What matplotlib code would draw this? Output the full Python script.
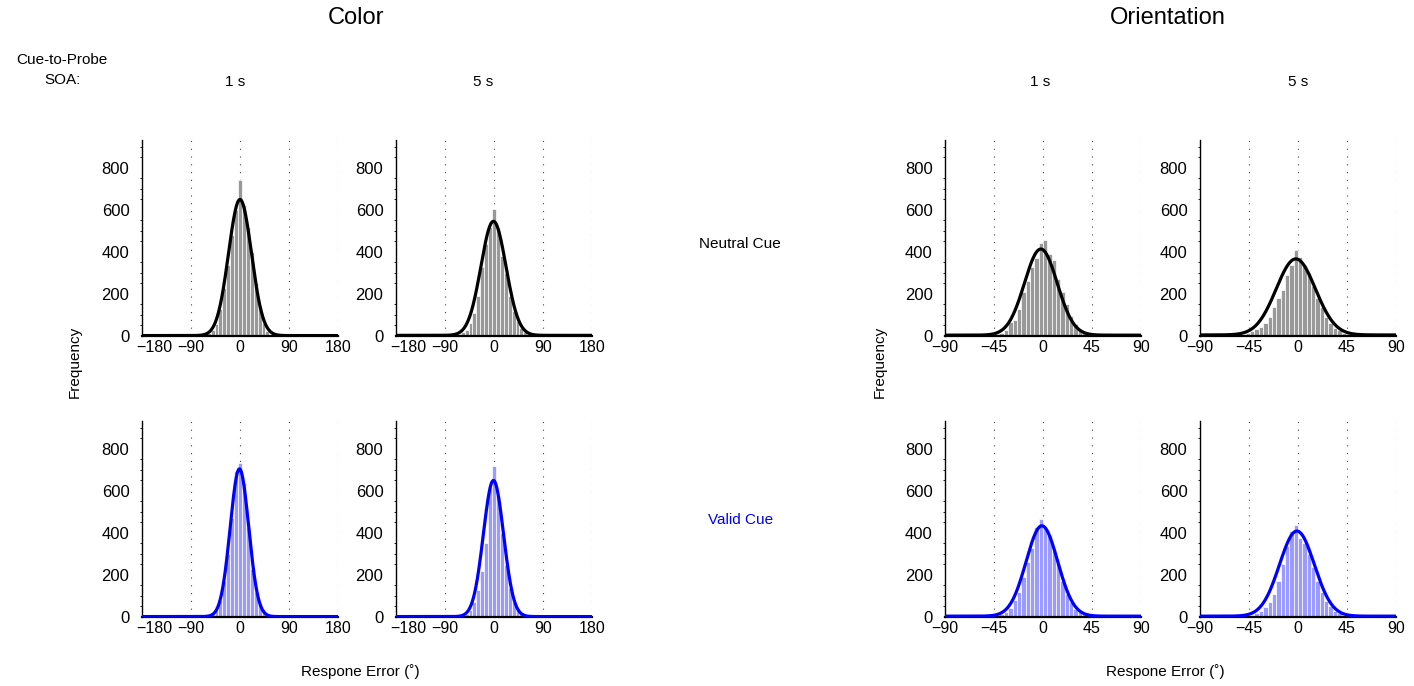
import numpy as np
import matplotlib
matplotlib.use('Agg')
import matplotlib.pyplot as plt
from matplotlib.ticker import MultipleLocator

# DATA: histogram counts (central bins only, tails ~0)
colorBinWidth = 7.2
colorCenters = [-72, -64.8, -57.6, -50.4, -43.2, -36, -28.8, -21.6, -14.4, -7.2, 0,
                7.2, 14.4, 21.6, 28.8, 36, 43.2, 50.4, 57.6, 64.8, 72]
color1sNeutral = [3, 5, 12, 28, 57, 130, 230, 340, 480, 600, 743, 625, 520, 400, 250, 140, 63, 25, 8, 4, 2]
color5sNeutral = [6, 10, 20, 28, 60, 110, 190, 330, 440, 521, 603, 514, 380, 300, 190, 120, 70, 40, 20, 10, 6]
color1sValid = [2, 4, 8, 15, 50, 80, 170, 300, 470, 697, 735, 640, 430, 230, 120, 60, 40, 15, 8, 4, 2]
color5sValid = [3, 5, 8, 15, 35, 70, 130, 220, 351, 617, 719, 576, 398, 248, 140, 70, 40, 18, 8, 5, 3]

oriBinWidth = 4
oriCenters = [-50, -46, -42, -38, -34, -30, -26, -22, -18, -14, -10, -6, -2,
              2, 6, 10, 14, 18, 22, 26, 30, 34, 38, 42, 46, 50]
ori1sNeutral = [4, 5, 8, 15, 30, 68, 75, 130, 210, 260, 330, 370, 445, 455, 390, 360, 270, 210, 150, 95, 55, 30, 20, 10, 6, 4]
ori5sNeutral = [8, 12, 22, 35, 45, 60, 90, 140, 180, 220, 290, 340, 410, 378, 340, 300, 240, 180, 140, 90, 60, 40, 28, 15, 10, 6]
ori1sValid = [4, 5, 8, 14, 25, 45, 80, 120, 190, 260, 330, 430, 465, 430, 390, 320, 250, 170, 110, 70, 40, 22, 14, 8, 5, 4]
ori5sValid = [4, 6, 10, 18, 30, 48, 70, 110, 170, 250, 340, 410, 438, 376, 352, 300, 240, 170, 120, 75, 50, 30, 18, 10, 6, 4]

# fitted curve parameters: amplitude, mean, sd, baseline
color1sNeutralFit = [648, 0, 21, 2]
color5sNeutralFit = [543, -1, 23, 3]
color1sValidFit = [703, -1, 17, 2]
color5sValidFit = [648, -1, 18.5, 2]
ori1sNeutralFit = [410, -2, 15, 4]
ori5sNeutralFit = [362, -2, 18, 5]
ori1sValidFit = [430, -1, 14.5, 4]
ori5sValidFit = [405, -1, 16, 4]

colorTicks = [-180, -90, 0, 90, 180]
oriTicks = [-90, -45, 0, 45, 90]
yTicks = [0, 200, 400, 600, 800]

NARROW = ['Liberation Sans Narrow', 'Liberation Sans', 'DejaVu Sans']
plt.rcParams['font.family'] = ['Liberation Sans', 'DejaVu Sans']
plt.rcParams['axes.unicode_minus'] = True


def tickText(t):
    return str(t).replace('-', '\u2212')


# Draws one histogram panel with its fit curve
def drawPanel(fig, rect, centers, counts, binWidth, fit, ticks, barColor, lineColor, shiftFirst=False):
    ax = fig.add_axes(rect)
    lo, hi = ticks[0], ticks[-1]

    ax.bar(centers, counts, width=binWidth, color=barColor, edgecolor='white', linewidth=0.5, zorder=2)

    amp, mu, sd, base = fit
    x = np.linspace(lo, hi, 500)
    y = base + amp * np.exp(-0.5 * ((x - mu) / sd) ** 2)
    ax.plot(x, y, color=lineColor, lw=2.3, zorder=4, solid_capstyle='butt')

    # dotted verticals at each tick
    for t in ticks[1:]:
        ax.axvline(t, color='#444444', lw=0.8, linestyle=(0, (1, 6)), zorder=1)

    # AXES PROPERTIES
    ax.set_xlim(lo, hi)
    ax.set_ylim(0, 933)
    labels = [tickText(t) for t in ticks]
    if shiftFirst:
        # the leftmost label is nudged right of the spine in the original
        labels[0] = ''
        ax.annotate(tickText(lo), xy=(lo, 0), xycoords=('data', 'axes fraction'),
                    xytext=(9, -3), textcoords='offset points', ha='center', va='top',
                    fontsize=11.5)
    ax.set_xticks(ticks, labels=labels)
    ax.set_yticks(yTicks)
    ax.yaxis.set_minor_locator(MultipleLocator(50))
    ax.spines['top'].set_visible(False)
    ax.spines['right'].set_visible(False)
    ax.spines['left'].set_linewidth(1.0)
    ax.spines['bottom'].set_linewidth(1.6)
    ax.spines['bottom'].set_zorder(3)
    ax.tick_params(axis='x', length=0, pad=3, labelsize=11.5)
    ax.tick_params(axis='y', which='major', length=0, pad=9, labelsize=12)
    ax.tick_params(axis='y', which='minor', length=1.5, width=0.6, direction='out')
    ax.set_facecolor('none')
    return ax


fig = plt.figure(figsize=(14.14, 6.86), dpi=100)

W, H = 1414.0, 686.0
panelW = 196 / W
panelH = 196 / H
topBottom = 1 - 336 / H
lowBottom = 1 - 617 / H

gray = '#999999'
lightBlue = '#9b9bff'
blue = '#0000ff'

drawPanel(fig, [142 / W, topBottom, panelW, panelH], colorCenters, color1sNeutral, colorBinWidth, color1sNeutralFit, colorTicks, gray, 'black', True)
drawPanel(fig, [396 / W, topBottom, panelW, panelH], colorCenters, color5sNeutral, colorBinWidth, color5sNeutralFit, colorTicks, gray, 'black', True)
drawPanel(fig, [142 / W, lowBottom, panelW, panelH], colorCenters, color1sValid, colorBinWidth, color1sValidFit, colorTicks, lightBlue, blue, True)
drawPanel(fig, [396 / W, lowBottom, panelW, panelH], colorCenters, color5sValid, colorBinWidth, color5sValidFit, colorTicks, lightBlue, blue, True)

drawPanel(fig, [945 / W, topBottom, panelW, panelH], oriCenters, ori1sNeutral, oriBinWidth, ori1sNeutralFit, oriTicks, gray, 'black')
drawPanel(fig, [1200 / W, topBottom, panelW, panelH], oriCenters, ori5sNeutral, oriBinWidth, ori5sNeutralFit, oriTicks, gray, 'black')
drawPanel(fig, [945 / W, lowBottom, panelW, panelH], oriCenters, ori1sValid, oriBinWidth, ori1sValidFit, oriTicks, lightBlue, blue)
drawPanel(fig, [1200 / W, lowBottom, panelW, panelH], oriCenters, ori5sValid, oriBinWidth, ori5sValidFit, oriTicks, lightBlue, blue)

# TEXT
fig.text(356 / W, 1 - 18 / H, 'Color', ha='center', va='center', fontsize=17, family=NARROW)
fig.text(1168 / W, 1 - 18 / H, 'Orientation', ha='center', va='center', fontsize=17, family=NARROW)
fig.text(62 / W, 1 - 70 / H, 'Cue-to-Probe\nSOA:', ha='center', va='center', multialignment='center',
         fontsize=11, family=NARROW, linespacing=1.5)
for xPix, label in [(235, '1 s'), (483, '5 s'), (1040, '1 s'), (1298, '5 s')]:
    fig.text(xPix / W, 1 - 82 / H, label, ha='center', va='center', fontsize=11, family=NARROW)
fig.text(740 / W, 1 - 244 / H, 'Neutral Cue', ha='center', va='center', fontsize=11, family=NARROW)
fig.text(741 / W, 1 - 520 / H, 'Valid Cue', ha='center', va='center', fontsize=11, family=NARROW, color=blue)
for xPix in [75, 880]:
    fig.text(xPix / W, 1 - 362 / H, 'Frequency', ha='center', va='center', rotation=90, fontsize=11, family=NARROW)
for xPix in [360, 1165]:
    fig.text(xPix / W, 1 - 672 / H, 'Respone Error (\u02da)', ha='center', va='center', fontsize=11, family=NARROW)

fig.savefig('out.png', dpi=100)
